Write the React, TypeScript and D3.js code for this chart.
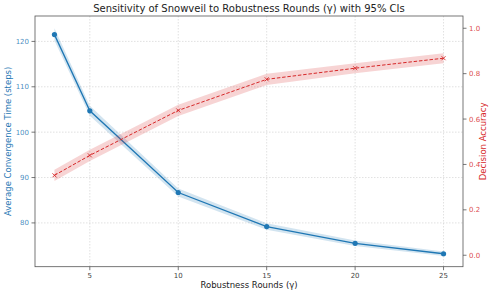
import React from 'react'
import * as d3 from 'd3'

const rounds = [3, 5, 10, 15, 20, 25]
const convTime = [121.5, 104.7, 86.7, 79.2, 75.5, 73.2]
const convLo = [120.2, 103.6, 85.8, 78.5, 74.9, 72.7]
const convHi = [122.9, 105.8, 87.6, 79.9, 76.1, 73.7]
const accuracy = [0.352, 0.44, 0.638, 0.775, 0.824, 0.868]
const accLo = [0.327, 0.415, 0.613, 0.75, 0.802, 0.846]
const accHi = [0.377, 0.465, 0.663, 0.8, 0.846, 0.89]
const xTicks = [5, 10, 15, 20, 25]
const leftTicks = [80, 90, 100, 110, 120]
const rightTicks = [0, 0.2, 0.4, 0.6, 0.8, 1.0]

const W = 495
const H = 295
const m = { left: 35, right: 463, top: 16, bottom: 266.7 }
const BLUE = '#1f77b4'
const RED = '#d62728'
const FONT = 'DejaVu Sans, sans-serif'

export default function App() {
  const x = d3.scaleLinear().domain([1.9, 26.1]).range([m.left, m.right])
  const yL = d3.scaleLinear().domain([70.35, 125.6]).range([m.bottom, m.top])
  const yR = d3.scaleLinear().domain([-0.0505, 1.054]).range([m.bottom, m.top])

  const idx = rounds.map((_, i) => i)
  const lineL = d3.line<number>().x(i => x(rounds[i])).y(i => yL(convTime[i]))
  const areaL = d3.area<number>().x(i => x(rounds[i])).y0(i => yL(convLo[i])).y1(i => yL(convHi[i]))
  const lineR = d3.line<number>().x(i => x(rounds[i])).y(i => yR(accuracy[i]))
  const areaR = d3.area<number>().x(i => x(rounds[i])).y0(i => yR(accLo[i])).y1(i => yR(accHi[i]))

  const cy = (m.top + m.bottom) / 2
  const cx = (m.left + m.right) / 2

  return (
    <svg width={W} height={H} style={{ position: 'absolute', left: 0, top: 0 }} fontFamily={FONT}>
      <rect width={W} height={H} fill="white" />
      <text x={cx} y={12} textAnchor="middle" fontSize={10} fill="#222">
        Sensitivity of Snowveil to Robustness Rounds (γ) with 95% CIs
      </text>

      {/* grid */}
      {xTicks.map(t => (
        <line key={'gx' + t} x1={x(t)} x2={x(t)} y1={m.top} y2={m.bottom} stroke="#ccc" strokeWidth={0.6} strokeDasharray="1.5,1.5" />
      ))}
      {leftTicks.map(t => (
        <line key={'gy' + t} x1={m.left} x2={m.right} y1={yL(t)} y2={yL(t)} stroke="#ccc" strokeWidth={0.6} strokeDasharray="1.5,1.5" />
      ))}

      {/* series */}
      <path d={areaL(idx) || ''} fill={BLUE} fillOpacity={0.2} />
      <path d={lineL(idx) || ''} fill="none" stroke={BLUE} strokeWidth={1.3} />
      {idx.map(i => (
        <circle key={'c' + i} cx={x(rounds[i])} cy={yL(convTime[i])} r={2.6} fill={BLUE} />
      ))}
      <path d={areaR(idx) || ''} fill={RED} fillOpacity={0.2} />
      <path d={lineR(idx) || ''} fill="none" stroke={RED} strokeWidth={1} strokeDasharray="3.5,1.8" />
      {idx.map(i => {
        const px = x(rounds[i])
        const py = yR(accuracy[i])
        const s = 2
        return (
          <g key={'x' + i} stroke={RED} strokeWidth={0.9}>
            <line x1={px - s} x2={px + s} y1={py - s} y2={py + s} />
            <line x1={px - s} x2={px + s} y1={py + s} y2={py - s} />
          </g>
        )
      })}

      {/* frame */}
      <rect x={m.left} y={m.top} width={m.right - m.left} height={m.bottom - m.top} fill="none" stroke="#555" strokeWidth={0.8} />

      {/* x axis */}
      {xTicks.map(t => (
        <g key={'xt' + t}>
          <line x1={x(t)} x2={x(t)} y1={m.bottom} y2={m.bottom + 3.5} stroke="#555" strokeWidth={0.8} />
          <text x={x(t)} y={m.bottom + 11} textAnchor="middle" fontSize={7} fill="#444">{t}</text>
        </g>
      ))}
      <text x={cx} y={288} textAnchor="middle" fontSize={8.5} fill="#222">Robustness Rounds (γ)</text>

      {/* left axis */}
      {leftTicks.map(t => (
        <g key={'lt' + t}>
          <line x1={m.left - 3.5} x2={m.left} y1={yL(t)} y2={yL(t)} stroke="#555" strokeWidth={0.8} />
          <text x={m.left - 6} y={yL(t) + 2.5} textAnchor="end" fontSize={7} fill={BLUE} fillOpacity={0.85}>{t}</text>
        </g>
      ))}
      <text transform={`translate(11,${cy}) rotate(-90)`} textAnchor="middle" fontSize={8.5} fill={BLUE}>
        Average Convergence Time (steps)
      </text>

      {/* right axis */}
      {rightTicks.map(t => (
        <g key={'rt' + t}>
          <line x1={m.right} x2={m.right + 3.5} y1={yR(t)} y2={yR(t)} stroke="#555" strokeWidth={0.8} />
          <text x={m.right + 6} y={yR(t) + 2.5} textAnchor="start" fontSize={7} fill={RED} fillOpacity={0.85}>{t.toFixed(1)}</text>
        </g>
      ))}
      <text transform={`translate(486,${cy}) rotate(-90)`} textAnchor="middle" fontSize={8.5} fill={RED}>
        Decision Accuracy
      </text>
    </svg>
  )
}
